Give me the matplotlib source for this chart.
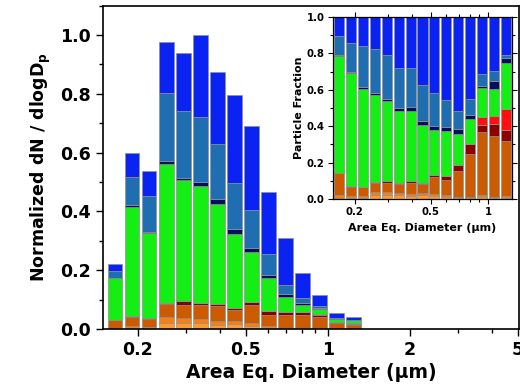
import numpy as np
import matplotlib
matplotlib.use('Agg')
import matplotlib.pyplot as plt
from matplotlib.ticker import FixedLocator, NullFormatter, MultipleLocator

plt.rcParams['font.family'] = ['DejaVu Sans']
plt.rcParams['font.weight'] = 'bold'
plt.rcParams['mathtext.fontset'] = 'custom'
plt.rcParams['mathtext.rm'] = 'DejaVu Sans:bold'
plt.rcParams['mathtext.bf'] = 'DejaVu Sans:bold'

# size bins: 16 per decade, lower edge index k -> 10**(k/16)
bin_index = np.arange(-13, 2)

# normalized dN/dlogDp (total bar height)
totals = [0.221, 0.60, 0.538, 0.977, 0.938, 1.0, 0.875, 0.796, 0.692, 0.467,
          0.308, 0.189, 0.114, 0.055, 0.040]

# particle-type fractions per bin, bottom to top
light_orange = [0.005, 0.005, 0.005, 0.020, 0.020, 0.020, 0.015, 0.020, 0.015, 0.010,
                0.005, 0.005, 0.010, 0.005, 0.005]
orange = [0.015, 0.010, 0.010, 0.020, 0.020, 0.015, 0.015, 0.015, 0.015, 0.010,
          0.005, 0.005, 0.010, 0.005, 0.010]
brown = [0.121, 0.053, 0.049, 0.046, 0.046, 0.045, 0.058, 0.045, 0.090, 0.084,
         0.145, 0.237, 0.350, 0.335, 0.303]
dark_red = [0.003, 0.003, 0.003, 0.006, 0.014, 0.008, 0.009, 0.010, 0.012, 0.024,
            0.031, 0.055, 0.036, 0.068, 0.062]
red = [0, 0, 0, 0, 0, 0, 0, 0, 0, 0, 0, 0, 0.044, 0.045, 0.116]
green = [0.642, 0.622, 0.540, 0.482, 0.439, 0.398, 0.387, 0.316, 0.246, 0.245,
         0.170, 0.137, 0.160, 0.149, 0.252]
navy = [0.004, 0.007, 0.008, 0.011, 0.009, 0.014, 0.022, 0.022, 0.022, 0.020,
        0.028, 0.022, 0.010, 0.040, 0.029]
steel = [0.106, 0.159, 0.224, 0.238, 0.242, 0.222, 0.214, 0.197, 0.183, 0.150,
         0.099, 0.089, 0.066, 0.055, 0.013]
blue = [0.104, 0.141, 0.161, 0.177, 0.210, 0.278, 0.280, 0.375, 0.417, 0.457,
        0.517, 0.450, 0.314, 0.298, 0.210]

layers = [light_orange, orange, brown, dark_red, red, green, navy, steel, blue]
colors = ['#FF9A2E', '#F47F14', '#CC5A00', '#8E0000', '#FF1010',
          '#14EE14', '#00105A', '#1F6EB2', '#0A22F2']

left = 10 ** ((bin_index + 0.08) / 16)
right = 10 ** ((bin_index + 0.92) / 16)
widths = right - left


def draw_stack(ax, scale):
    bottom = np.zeros(len(bin_index))
    for frac, c in zip(layers, colors):
        h = np.array(frac) * scale
        ax.bar(left, h, width=widths, bottom=bottom, align='edge', color=c,
               edgecolor='#909090', linewidth=0.5)
        bottom += h


fig = plt.figure(figsize=(5.2, 3.87), dpi=100)

# main panel
ax = fig.add_axes([0.198, 0.150, 0.800, 0.8355])
draw_stack(ax, np.array(totals))
ax.set_xscale('log')
ax.set_xlim(0.149, 5.04)
ax.set_ylim(0, 1.1)
ax.xaxis.set_major_locator(FixedLocator([0.2, 0.5, 1, 2, 5]))
ax.set_xticklabels(['0.2', '0.5', '1', '2', '5'])
ax.xaxis.set_minor_formatter(NullFormatter())
ax.yaxis.set_major_locator(MultipleLocator(0.2))
ax.yaxis.set_minor_locator(MultipleLocator(0.1))
ax.yaxis.set_major_formatter(plt.FormatStrFormatter('%.1f'))
ax.tick_params(which='both', direction='out', labelsize=12.5, width=1)
ax.tick_params(which='major', length=5)
ax.tick_params(which='minor', length=3)
for s in ax.spines.values():
    s.set_linewidth(1.2)
ax.set_xlabel('Area Eq. Diameter (μm)', fontsize=13.5, fontweight='bold', labelpad=3)
ax.set_ylabel('Normalized dN / dlogD$_\\mathrm{p}$', fontsize=12.5,
              fontweight='bold', labelpad=5)

# inset: particle fraction
axi = fig.add_axes([0.6404, 0.4858, 0.3442, 0.4703])
draw_stack(axi, 1.0)
axi.set_xscale('log')
axi.set_xlim(10 ** (-13 / 16), 10 ** (2 / 16))
axi.set_ylim(0, 1.0)
axi.xaxis.set_major_locator(FixedLocator([0.2, 0.5, 1]))
axi.set_xticklabels(['0.2', '0.5', '1'])
axi.xaxis.set_minor_formatter(NullFormatter())
axi.yaxis.set_major_locator(MultipleLocator(0.2))
axi.yaxis.set_minor_locator(MultipleLocator(0.1))
axi.yaxis.set_major_formatter(plt.FormatStrFormatter('%.1f'))
axi.tick_params(which='both', direction='out', labelsize=7.3, width=0.8, pad=2.5)
axi.tick_params(which='major', length=3.5)
axi.tick_params(which='minor', length=2)
axi.tick_params(which='both', top=True, right=True)
for s in axi.spines.values():
    s.set_linewidth(0.9)
axi.set_xlabel('Area Eq. Diameter (μm)', fontsize=8, fontweight='bold', labelpad=4)
axi.set_ylabel('Particle Fraction', fontsize=8, fontweight='bold', labelpad=2)

fig.savefig('out.png', dpi=100)
